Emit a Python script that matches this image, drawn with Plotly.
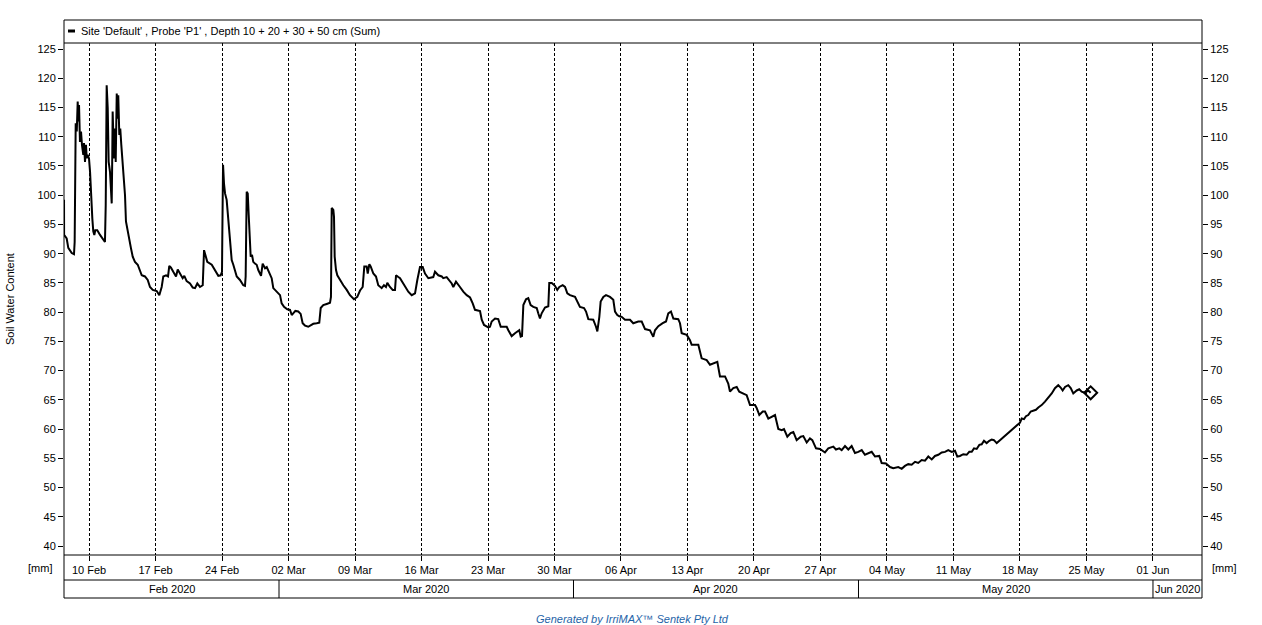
import pandas as pd
import plotly.graph_objects as go

# ---------------- data ----------------
START = pd.Timestamp("2020-02-10")

# time of each reading, in days after 10 Feb 2020 00:00
days = [
    -2.63, -2.62, -2.35, -2.18, -1.82, -1.58, -1.51, -1.47, -1.40, -1.29,
    -1.19, -1.13, -1.05, -0.95, -0.84, -0.74, -0.60, -0.53, -0.42, -0.32,
    -0.24, -0.14, 0.00, 0.11, 0.18, 0.28, 0.35, 0.45, 0.56, 0.66,
    0.87, 1.16, 1.44, 1.68, 1.76, 1.86, 1.97, 2.07, 2.21, 2.39,
    2.45, 2.49, 2.63, 2.74, 2.81, 2.92, 3.02, 3.08, 3.19, 3.29,
    3.40, 3.55, 3.68, 3.79, 3.89, 4.07, 4.24, 4.42, 4.60, 4.84,
    5.13, 5.37, 5.55, 5.89, 6.18, 6.42, 6.71, 7.13, 7.40, 7.65,
    7.82, 8.11, 8.32, 8.45, 8.63, 8.87, 9.16, 9.34, 9.58, 9.86,
    10.03, 10.28, 10.63, 10.92, 11.16, 11.40, 11.68,
    11.97, 12.11, 12.32, 12.45, 12.92, 13.26, 13.61, 13.86, 14.00, 14.03,
    14.11, 14.21, 14.32, 14.49, 14.66, 14.84, 15.02, 15.19, 15.37, 15.55,
    15.89, 16.24, 16.42, 16.49, 16.60, 16.71, 16.81, 16.92, 17.02, 17.16,
    17.29, 17.47, 17.65, 17.82, 18.11, 18.28, 18.53, 18.71, 18.98, 19.23,
    19.40, 19.76, 20.11, 20.28, 20.53, 20.87, 21.16, 21.34, 21.51, 21.72,
    22.03, 22.28, 22.49, 22.74, 23.08, 23.34, 23.61, 23.97, 24.24, 24.39,
    24.66, 25.02, 25.37, 25.47, 25.55, 25.72, 25.79, 25.86, 26.00, 26.14,
    26.42, 26.77, 27.13, 27.47, 27.89, 28.24, 28.53, 28.81, 28.98, 29.23,
    29.34, 29.51, 29.65, 29.93, 30.21, 30.45, 30.81, 31.05, 31.26, 31.40,
    31.68, 31.97, 32.21, 32.32, 32.56, 32.74,
    33.08, 33.61, 33.97, 34.32, 34.56, 34.84, 35.13, 35.37, 35.72, 36.24,
    36.42, 36.77, 37.13, 37.29, 37.65, 38.18, 38.35, 38.63, 39.05, 39.40,
    39.76, 40.11, 40.39, 40.63, 41.16, 41.34, 41.58, 42.03, 42.21, 42.39,
    42.74, 43.08, 43.34, 43.97, 44.14, 44.49, 44.84, 45.08, 45.29, 45.44,
    45.58, 45.72, 46.00, 46.24, 46.49, 46.77, 47.13, 47.29, 47.47, 47.65,
    48.00, 48.35, 48.45, 48.71, 49.05, 49.29, 49.51, 49.86, 50.11, 50.35,
    50.63, 51.16, 51.44, 51.68, 52.11, 52.32, 52.56, 53.08, 53.37, 53.51,
    53.72, 53.86, 54.14, 54.42, 54.84, 55.19, 55.37, 55.61, 55.82,
    56.07, 56.42, 56.95, 57.29, 57.82, 58.18, 58.53, 59.05, 59.40, 59.58,
    59.93, 60.39, 60.74, 60.98, 61.26, 61.51, 62.03, 62.21, 62.39, 62.92,
    63.26, 63.44, 64.14, 64.49, 65.02, 65.37, 65.72, 66.14, 66.42, 66.95,
    67.29, 67.47, 67.82, 68.18, 68.45, 68.87, 69.23, 69.58, 70.11, 70.28,
    70.56, 70.92, 71.16, 71.51, 71.86, 72.21, 72.56, 72.92, 73.16, 73.51,
    73.86, 74.14, 74.49, 74.92, 75.19, 75.55, 75.89, 76.14, 76.53, 76.95,
    77.47, 77.82, 78.35, 78.63, 78.98, 79.23, 79.58, 79.93, 80.28, 80.63,
    80.98, 81.34, 81.68, 82.03, 82.39, 82.74, 83.19, 83.44, 83.89, 84.32,
    84.66, 85.19, 85.55, 85.89, 86.24, 86.60, 86.95, 87.29, 87.65, 88.00,
    88.35, 88.71, 89.05, 89.40, 89.76, 90.11, 90.45, 90.81, 91.16, 91.40,
    91.68, 92.03, 92.39, 92.66, 92.92, 93.16, 93.44, 93.72, 93.97, 94.21,
    94.49, 94.77, 95.02, 95.26, 95.55, 95.89, 96.24, 96.60, 96.95, 97.29,
    97.65, 98.00, 98.18, 98.42, 98.63, 98.87, 99.13, 99.40, 99.68, 99.93,
    100.28, 100.63, 100.98, 101.34, 101.68, 102.03, 102.28, 102.49, 102.74, 103.08,
    103.34, 103.61, 103.97, 104.24, 104.49, 104.84, 105.19, 105.44,
]

# soil water content [mm], sum of depths 10 + 20 + 30 + 50 cm
swc = [
    99.2, 93.2, 92.6, 91.0, 90.1, 89.9, 92.0, 104.0, 112.3, 110.9,
    116.0, 112.6, 115.4, 109.1, 110.9, 108.6, 106.9, 108.9, 105.7, 108.6,
    106.3, 106.9, 106.3, 104.0, 101.2, 100.0, 96.0, 93.8, 93.2, 94.0,
    94.0, 93.2, 92.5, 92.0, 98.3, 118.8, 114.9, 105.7, 104.0, 98.6,
    106.9, 114.3, 106.3, 111.4, 105.7, 117.4, 113.1, 117.1, 110.3, 111.4,
    108.6, 105.7, 103.4, 100.0, 95.5, 93.8, 92.0, 90.9, 89.5, 88.6,
    88.1, 86.9, 86.3, 86.1, 85.5, 84.3, 83.8, 83.6, 82.9, 84.3,
    86.1, 86.3, 86.1, 87.9, 87.6, 86.9, 86.1, 87.3, 86.6, 85.8,
    86.2, 85.3, 84.9, 84.2, 84.1, 84.9, 84.3,
    84.6, 90.6, 89.5, 88.6, 88.1, 87.2, 86.2, 86.3, 86.9, 92.6,
    105.2, 102.0, 100.3, 99.2, 96.3, 92.6, 88.9, 88.1, 86.9, 86.1,
    85.5, 84.6, 84.5, 86.1, 100.6, 100.3, 96.6, 91.5, 89.5, 89.8,
    88.6, 88.3, 88.1, 87.2, 86.2, 88.3, 87.5, 87.7, 86.6, 85.8,
    84.1, 83.5, 82.9, 81.5, 80.9, 80.5, 80.4, 79.5, 79.8, 80.2,
    80.1, 79.7, 78.1, 77.7, 77.5, 77.8, 78.0, 78.1, 78.2, 80.7,
    81.2, 81.4, 81.6, 82.6, 97.8, 97.5, 96.3, 89.5, 87.2, 86.3,
    85.5, 84.6, 83.8, 82.9, 82.2, 82.6, 83.7, 84.3, 87.8, 87.8,
    86.6, 88.2, 87.8, 86.6, 86.1, 84.6, 84.1, 84.6, 84.3, 85.0,
    84.3, 83.8, 83.8, 86.3, 86.0, 85.8,
    84.9, 83.5, 82.9, 83.2, 85.5, 87.7, 87.7, 86.6, 85.8, 86.0,
    86.9, 86.3, 86.1, 85.8, 86.0, 84.9, 84.3, 85.2, 84.3, 83.5,
    82.9, 82.5, 81.5, 80.4, 80.2, 78.7, 77.8, 77.4, 77.5, 78.4,
    78.9, 78.8, 77.5, 77.5, 76.9, 75.9, 76.4, 76.7, 76.9, 75.8,
    75.9, 81.2, 82.2, 82.4, 81.2, 80.9, 80.7, 79.8, 78.9, 79.8,
    80.8, 81.0, 85.0, 85.0, 84.5, 83.8, 84.3, 84.6, 84.3, 83.2,
    82.9, 82.6, 81.8, 80.9, 80.7, 80.1, 78.8, 78.7, 77.5, 76.7,
    79.2, 81.8, 82.6, 82.9, 82.6, 82.1, 80.1, 79.5, 79.3,
    79.2, 78.7, 78.7, 78.1, 78.4, 78.4, 77.1, 76.9, 75.8, 76.9,
    77.6, 78.1, 78.4, 79.8, 80.1, 78.9, 78.8, 78.1, 76.4, 76.1,
    75.2, 74.4, 74.4, 72.1, 71.8, 71.0, 71.2, 71.5, 69.0, 69.0,
    67.8, 66.4, 67.0, 67.2, 66.4, 66.1, 65.8, 64.1, 64.1, 63.6,
    62.4, 63.0, 63.0, 61.8, 62.1, 62.4, 60.0, 59.8, 60.0, 58.7,
    59.3, 59.5, 58.1, 58.7, 58.8, 57.7, 58.4, 58.1, 56.7, 56.6,
    56.0, 56.7, 57.0, 56.5, 56.7, 56.4, 57.1, 56.5, 57.1, 55.9,
    56.1, 56.4, 55.6, 55.9, 56.1, 55.3, 55.4, 54.2, 54.1, 53.5,
    53.3, 53.5, 53.2, 53.7, 54.0, 53.9, 54.4, 54.2, 54.7, 54.6,
    55.3, 54.8, 55.4, 55.6, 56.0, 56.1, 56.4, 56.1, 56.3, 55.3,
    55.4, 55.7, 55.6, 56.1, 56.1, 56.7, 56.6, 57.3, 57.4, 58.0,
    57.6, 58.0, 58.2, 58.1, 57.6, 58.1, 58.6, 59.0, 59.5, 60.0,
    60.5, 61.1, 61.8, 61.7, 62.2, 62.4, 63.0, 63.1, 63.3, 63.7,
    64.1, 64.7, 65.3, 66.1, 67.0, 67.5, 67.1, 66.6, 67.2, 67.5,
    67.0, 66.1, 66.6, 66.8, 66.4, 66.2, 66.6, 66.2,
]

series_name = "Site 'Default' , Probe 'P1' , Depth 10 + 20 + 30 + 50 cm (Sum)"
month_labels = ["Feb 2020", "Mar 2020", "Apr 2020", "May 2020", "Jun 2020"]
month_starts = ["2020-03-01", "2020-04-01", "2020-05-01", "2020-06-01"]

times = START + pd.to_timedelta(days, unit="D")

# ---------------- figure ----------------
X0, X1 = "2020-02-07 08:50", "2020-06-06 03:50"
Y0, Y1 = 38.46, 126.03
FONT = "Liberation Sans, Arial, sans-serif"
PH = 512.0  # plot height px
PW = 1138.0

fig = go.Figure()
fig.add_trace(go.Scatter(
    x=times, y=swc, mode="lines", name=series_name,
    line=dict(color="black", width=2), showlegend=False,
))
fig.add_trace(go.Scatter(
    x=[times[-1]], y=[swc[-1]], mode="markers", showlegend=False,
    marker=dict(symbol="diamond-open", size=10, color="black",
                line=dict(width=2, color="black")),
))
# invisible trace to show the right axis
fig.add_trace(go.Scatter(x=[times[0]], y=[swc[0]], yaxis="y2", mode="markers",
                         marker=dict(opacity=0), showlegend=False, hoverinfo="skip"))

axis_common = dict(
    showline=False, zeroline=False, ticks="outside", ticklen=5, tickwidth=1,
    tickcolor="black", tickfont=dict(family=FONT, size=11, color="black"),
)
fig.update_layout(
    template="none",
    width=1262, height=625,
    margin=dict(l=64, r=60, t=43, b=70, pad=0),
    paper_bgcolor="white", plot_bgcolor="white",
    font=dict(family=FONT, size=11, color="black"),
    showlegend=False,
    xaxis=dict(
        type="date", range=[X0, X1], tick0="2020-02-10", dtick=7 * 86400000,
        tickformat="%d %b", showgrid=True, gridcolor="black", gridwidth=1,
        griddash="3px,2px", **axis_common,
    ),
    yaxis=dict(range=[Y0, Y1], tick0=40, dtick=5, showgrid=False, **axis_common),
    yaxis2=dict(range=[Y0, Y1], tick0=40, dtick=5, showgrid=False, overlaying="y",
                side="right", **axis_common),
)

shapes = []
# outer frame (legend box + plot + date band + month band)
shapes.append(dict(type="rect", xref="paper", yref="paper", x0=0, x1=1,
                   y0=-43 / PH, y1=1 + 23 / PH, line=dict(color="black", width=1)))
for yy in [1.0, 0.0, -25 / PH]:
    shapes.append(dict(type="line", xref="paper", yref="paper", x0=0, x1=1,
                       y0=yy, y1=yy, line=dict(color="black", width=1)))
# month dividers
for ms in month_starts:
    shapes.append(dict(type="line", xref="x", yref="paper", x0=ms, x1=ms,
                       y0=-25 / PH, y1=-43 / PH, line=dict(color="black", width=1)))
# legend symbol
shapes.append(dict(type="line", xref="paper", yref="paper", x0=4 / PW, x1=11 / PW,
                   y0=1 + 12 / PH, y1=1 + 12 / PH, line=dict(color="black", width=3)))
fig.update_layout(shapes=shapes)

annotations = []
annotations.append(dict(text=series_name, xref="paper", yref="paper", x=15 / PW,
                        y=1 + 12 / PH, xanchor="left", yanchor="middle", showarrow=False,
                        font=dict(family=FONT, size=11, color="black")))
# month labels centered in each band segment
bounds = [pd.Timestamp(X0)] + [pd.Timestamp(m) for m in month_starts] + [pd.Timestamp(X1)]
for lab, a, b in zip(month_labels, bounds[:-1], bounds[1:]):
    mid = a + (b - a) / 2
    annotations.append(dict(text=lab, xref="x", yref="paper", x=mid, y=-34 / PH,
                            xanchor="center", yanchor="middle", showarrow=False,
                            font=dict(family=FONT, size=11, color="black")))
annotations.append(dict(text="Soil Water Content", xref="paper", yref="paper",
                        x=-54 / PW, y=0.5, textangle=-90, showarrow=False,
                        xanchor="center", yanchor="middle",
                        font=dict(family=FONT, size=11, color="black")))
annotations.append(dict(text="[mm]", xref="paper", yref="paper", x=-24 / PW, y=-13 / PH,
                        showarrow=False, xanchor="center", yanchor="middle",
                        font=dict(family=FONT, size=11, color="black")))
annotations.append(dict(text="[mm]", xref="paper", yref="paper", x=1 + 22 / PW, y=-13 / PH,
                        showarrow=False, xanchor="center", yanchor="middle",
                        font=dict(family=FONT, size=11, color="black")))
annotations.append(dict(text="<i>Generated by IrriMAX™ Sentek Pty Ltd</i>", xref="paper",
                        yref="paper", x=(632 - 64) / PW, y=-64 / PH, showarrow=False,
                        xanchor="center", yanchor="middle",
                        font=dict(family=FONT, size=11, color="#1f64a8")))
fig.update_layout(annotations=annotations)

fig.write_html("out.html", config={"displayModeBar": False},
               post_script="document.body.style.margin='0px';document.body.style.padding='0px';")
